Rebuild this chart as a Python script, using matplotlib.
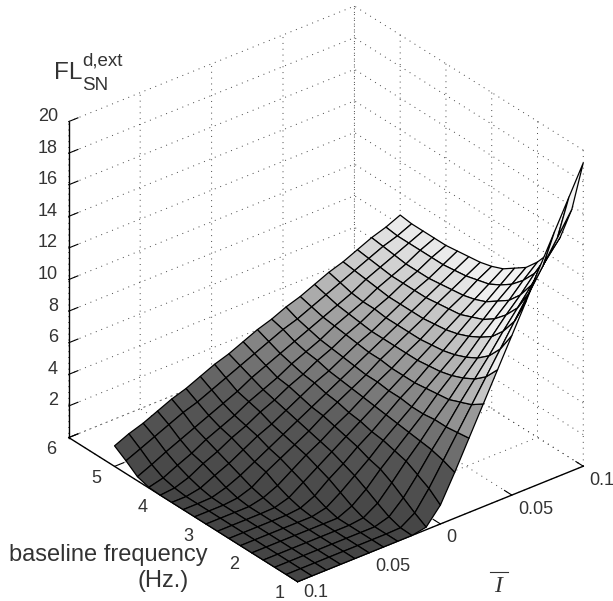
import numpy as np
import matplotlib
matplotlib.use('Agg')
import matplotlib.pyplot as plt
from matplotlib.colors import LinearSegmentedColormap, Normalize
from matplotlib.lines import Line2D
from mpl_toolkits.mplot3d import proj3d

plt.rcParams['font.family'] = 'Liberation Sans'

# mean input, x axis (labels in the picture have no minus signs)
ibar = [-0.10, -0.09, -0.08, -0.07, -0.06, -0.05, -0.04, -0.03, -0.02, -0.01, 0.00,
        0.01, 0.02, 0.03, 0.04, 0.05, 0.06, 0.07, 0.08, 0.09, 0.10]
# baseline frequency, y axis
freq = [1.0, 1.25, 1.5, 1.75, 2.0, 2.25, 2.5, 2.75, 3.0, 3.25, 3.5, 3.75, 4.0, 4.25, 4.5, 4.75, 5.0]

# one row per frequency
fl_100 = [0, 0, 0, 0, 0, 0, 0, 0, 0, .16, 1.2, 2.9, 4.7, 6.5, 8.3, 10.1, 11.9, 13.8, 15.6, 17.4, 19.2]
fl_125 = [0, 0, 0, 0, 0, 0, 0, 0, .03, .6, 1.8, 3.2, 4.6, 6.0, 7.4, 8.8, 10.2, 11.6, 13.0, 14.4, 15.8]
fl_150 = [0, 0, 0, 0, 0, 0, 0, 0, .27, 1.1, 2.2, 3.4, 4.5, 5.7, 6.8, 7.9, 9.1, 10.2, 11.3, 12.5, 13.6]
fl_175 = [0, 0, 0, 0, 0, 0, 0, .11, .67, 1.6, 2.6, 3.5, 4.5, 5.4, 6.4, 7.3, 8.3, 9.3, 10.2, 11.2, 12.1]
fl_200 = [0, 0, 0, 0, 0, 0, 0, .4, 1.1, 2.0, 2.8, 3.6, 4.4, 5.3, 6.1, 6.9, 7.8, 8.6, 9.4, 10.3, 11.1]
fl_225 = [0, 0, 0, 0, 0, 0, .2, .8, 1.5, 2.2, 3.0, 3.7, 4.4, 5.2, 5.9, 6.6, 7.4, 8.1, 8.9, 9.6, 10.3]
fl_250 = [0, 0, 0, 0, 0, .09, .5, 1.2, 1.8, 2.5, 3.1, 3.8, 4.5, 5.1, 5.8, 6.4, 7.1, 7.8, 8.4, 9.1, 9.8]
fl_275 = [0, 0, 0, 0, .03, .3, .9, 1.5, 2.1, 2.7, 3.3, 3.9, 4.5, 5.1, 5.7, 6.3, 6.9, 7.5, 8.1, 8.7, 9.3]
fl_300 = [0, 0, 0, 0, .2, .6, 1.2, 1.8, 2.3, 2.9, 3.4, 4.0, 4.6, 5.1, 5.7, 6.2, 6.8, 7.4, 7.9, 8.5, 9.0]
fl_325 = [0, 0, 0, .09, .4, 1.0, 1.5, 2.0, 2.5, 3.1, 3.6, 4.1, 4.6, 5.2, 5.7, 6.2, 6.7, 7.3, 7.8, 8.3, 8.8]
fl_350 = [0, 0, .03, .3, .7, 1.2, 1.7, 2.2, 2.7, 3.2, 3.7, 4.2, 4.7, 5.2, 5.7, 6.2, 6.7, 7.2, 7.7, 8.2, 8.7]
fl_375 = [0, 0, .17, .6, 1.0, 1.5, 2.0, 2.4, 2.9, 3.4, 3.9, 4.3, 4.8, 5.3, 5.7, 6.2, 6.7, 7.2, 7.6, 8.1, 8.6]
fl_400 = [0, .09, .4, .9, 1.3, 1.8, 2.2, 2.7, 3.1, 3.6, 4.0, 4.5, 4.9, 5.4, 5.8, 6.3, 6.7, 7.2, 7.6, 8.1, 8.5]
fl_425 = [.04, .27, .7, 1.1, 1.6, 2.0, 2.4, 2.9, 3.3, 3.7, 4.2, 4.6, 5.0, 5.5, 5.9, 6.3, 6.8, 7.2, 7.6, 8.1, 8.5]
fl_450 = [.26, .66, 1.1, 1.5, 1.9, 2.3, 2.7, 3.1, 3.6, 4.0, 4.4, 4.8, 5.2, 5.6, 6.0, 6.4, 6.9, 7.3, 7.7, 8.1, 8.5]
fl_475 = [.81, 1.2, 1.6, 2.0, 2.4, 2.7, 3.1, 3.5, 3.9, 4.3, 4.7, 5.1, 5.4, 5.8, 6.2, 6.6, 7.0, 7.4, 7.8, 8.1, 8.5]
fl_500 = [1.3, 1.7, 2.0, 2.4, 2.8, 3.1, 3.5, 3.9, 4.2, 4.6, 5.0, 5.3, 5.7, 6.0, 6.4, 6.8, 7.1, 7.5, 7.9, 8.2, 8.6]

rows = [fl_100, fl_125, fl_150, fl_175, fl_200, fl_225, fl_250, fl_275, fl_300,
        fl_325, fl_350, fl_375, fl_400, fl_425, fl_450, fl_475, fl_500]

x_ticks = [-0.1, -0.05, 0, 0.05, 0.1]
x_labels = ['0.1', '0.05', '0', '0.05', '0.1']
y_ticks = [1, 2, 3, 4, 5, 6]
y_labels = ['1', '2', '3', '4', '5', '6']
z_ticks = [0, 2, 4, 6, 8, 10, 12, 14, 16, 18, 20]
z_labels = ['', '2', '4', '6', '8', '10', '12', '14', '16', '18', '20']

TEXT = '#333333'

X, Y = np.meshgrid(ibar, freq)
Z = np.array(rows)

greys = LinearSegmentedColormap.from_list('fl', [(0.0, '#454545'), (0.3, '#585858'), (0.55, '#9a9a9a'),
                                                (0.85, '#eeeeee'), (1.0, '#f4f4f4')])

W = 613
H = 601
fig = plt.figure(figsize=(W / 100, H / 100), dpi=100)
ax = fig.add_axes([17.4 / W, -1.5 / H, 601 / W, 601 / H], projection='3d', proj_type='ortho')
ax.view_init(elev=30.3, azim=-128.7)
ax.set_box_aspect((1, 1, 1), zoom=1.024)

ax.plot_surface(X, Y, Z, rstride=1, cstride=1, cmap=greys, norm=Normalize(0, 10),
                edgecolor='black', linewidth=0.9, shade=False, antialiased=True)

ax.set_xlim(-0.1, 0.1, view_margin=0)
ax.set_ylim(1, 6, view_margin=0)
ax.set_zlim(0, 20, view_margin=0)
ax.set_xticks(x_ticks)
ax.set_xticklabels([''] * len(x_ticks))
ax.set_yticks(y_ticks)
ax.set_yticklabels([''] * len(y_ticks))
ax.set_zticks(z_ticks)
ax.set_zticklabels([''] * len(z_ticks))

for axis in [ax.xaxis, ax.yaxis, ax.zaxis]:
    axis.set_pane_color((1, 1, 1, 0))
    axis.pane.set_edgecolor((1, 1, 1, 0))
    axis.line.set_color('black')
    axis.line.set_linewidth(1.0)
    axis._axinfo['grid'].update(color='#444444', linewidth=0.7, linestyle=(0, (1, 5)))
    axis._axinfo['tick'].update(inward_factor=0.0, outward_factor=0.4, linewidth={True: 0.8, False: 0.8})


def tick_text(x, y, z, s, dx, dy, ha):
    # label a point of the box, offset in pixels like the original layout
    xp, yp, _ = proj3d.proj_transform(x, y, z, ax.get_proj())
    ax.annotate(s, (xp, yp), xytext=(dx, dy), textcoords='offset pixels', fontsize=13,
                color=TEXT, ha=ha, va='center', annotation_clip=False)


for v, s in zip(x_ticks, x_labels):
    # the front label sits right on the bottom edge of the figure
    tick_text(v, 1, 0, s, 6, -11 if v == -0.1 else -14, 'left')
for v, s in zip(y_ticks, y_labels):
    tick_text(-0.1, v, 0, s, -18, -12, 'center')
for v, s in zip(z_ticks, z_labels):
    tick_text(-0.1, 6, v, s, -11, 5, 'right')

fig.text(9 / W, 1 - 561 / H, 'baseline frequency', fontsize=17, color=TEXT, va='baseline', ha='left')
fig.text(189 / W, 1 - 587 / H, '(Hz.)', fontsize=17, color=TEXT, va='baseline', ha='right')
fig.text(54 / W, 1 - 79 / H, 'FL', fontsize=17.5, color=TEXT, va='baseline')
fig.text(82 / W, 1 - 65 / H, 'd,ext', fontsize=13.5, color=TEXT, va='baseline')
fig.text(82 / W, 1 - 90 / H, 'SN', fontsize=13.5, color=TEXT, va='baseline')
fig.text(498 / W, 1 - 592 / H, 'I', family='Liberation Serif', style='italic', fontsize=17, color=TEXT,
         ha='center', va='baseline')
fig.add_artist(Line2D([490 / W, 508 / W], [1 - 572 / H, 1 - 572 / H], color=TEXT, linewidth=0.8))

fig.savefig('out.png', dpi=100)
